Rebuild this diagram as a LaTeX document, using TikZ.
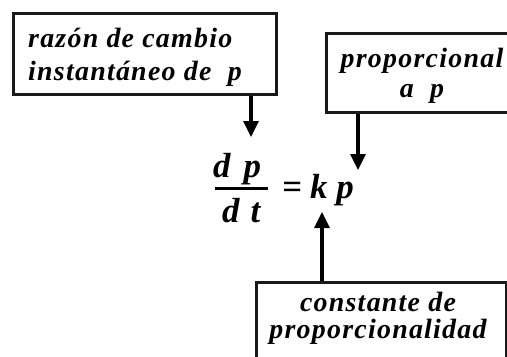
\documentclass[tikz,border=0pt]{standalone}
\usepackage{fontspec}
\setmainfont{Liberation Serif}
\newfontfamily\lblfont[LetterSpace=4.5]{Liberation Serif}
\usetikzlibrary{arrows.meta}
\begin{document}
\begin{tikzpicture}[x=1bp,y=-1bp,
  box/.style={draw=black!90, line width=3.2bp, inner sep=0pt, anchor=north west},
  lbl/.style={inner sep=0pt, font=\lblfont\fontsize{28}{30}\selectfont\bfseries\itshape},
  eq/.style={inner sep=0pt, font=\fontsize{35}{36}\selectfont\bfseries\itshape, anchor=base west},
  arr/.style={line width=3.2bp, -{Triangle[width=15bp,length=16bp]}}]
\clip (0,0) rectangle (507,356);
\fill[white] (0,0) rectangle (507,356);
\node[box, minimum width=263bp, minimum height=81bp] (box1) at (12,12) {};
\node[box, minimum width=195bp, minimum height=79bp] (box2) at (325,32) {};
\node[box, minimum width=250bp, minimum height=100bp] (box3) at (255,281) {};
\node[lbl, anchor=base west] (l1a) at (28,47) {razón de cambio};
\node[lbl, anchor=base west] (l1b) at (28,80) {instantáneo de\ \ p};
\node[lbl, anchor=base] (l2a) at (422,67) {proporcional};
\node[lbl, anchor=base] (l2b) at (422,97) {a\ \ p};
\node[lbl, anchor=base] (l3a) at (378,311) {constante de};
\node[lbl, anchor=base] (l3b) at (378,338) {proporcionalidad};
\node[eq] (num) at (213,177) {d\hspace{13bp}p};
\node[eq] (den) at (222,222) {d\hspace{11bp}t};
\node[eq] (rhs) at (282,198) {=\hspace{8bp}k\hspace{9bp}p};
\draw[line width=3bp] (215,188) -- (268,188);
\coordinate (t1) at (251,137);
\coordinate (t2) at (358,170);
\coordinate (t3) at (322,212);
\draw[arr] (box1.south -| t1) -- (t1);
\draw[arr] (box2.south -| t2) -- (t2);
\draw[arr] (box3.north -| t3) -- (t3);
\end{tikzpicture}
\end{document}
